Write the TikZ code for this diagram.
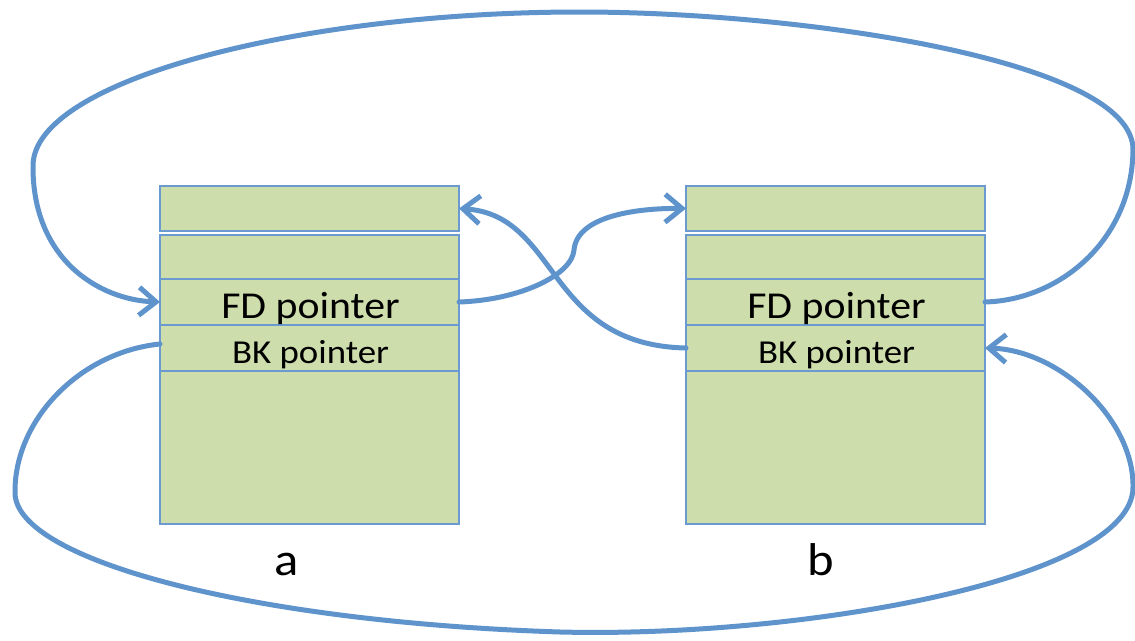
\documentclass[tikz,border=0pt]{standalone}
\usepackage{fontspec}
\setmainfont{Carlito}[FakeStretch=1.1]
\usetikzlibrary{arrows.meta}
\definecolor{wirec}{HTML}{5E93CC}
\definecolor{boxc}{HTML}{6A9AD0}
\definecolor{fillc}{HTML}{CDDDAC}
\begin{document}
\begin{tikzpicture}[x=1pt,y=-1pt,
  cell/.style={rectangle,draw=boxc,fill=fillc,line width=1.5pt,minimum width=299pt,inner sep=0pt,outer sep=0pt},
  wire/.style={draw=wirec,line width=5pt,line cap=round,line join=round},
  tip/.style={-{Straight Barb[length=17pt,width=28pt,line width=5pt]}},
  fdtext/.style={anchor=base,inner sep=0pt,font=\fontsize{38}{44}\selectfont},
  bktext/.style={anchor=base,inner sep=0pt,font=\fontsize{33.5}{40}\selectfont},
  abtext/.style={anchor=base,inner sep=0pt,font=\fontsize{46}{52}\selectfont}]
\useasboundingbox (0,0) rectangle (1135,640);
% left record a
\node[cell,minimum height=45pt]  (aTop) at (309.5,208.5) {};
\node[cell,minimum height=44pt]  (aSec) at (309.5,257) {};
\node[cell,minimum height=46pt]  (aFD)  at (309.5,302) {};
\node[cell,minimum height=46pt]  (aBK)  at (309.5,348) {};
\node[cell,minimum height=153pt] (aBody) at (309.5,447.5) {};
% right record b
\node[cell,minimum height=45pt]  (bTop) at (835.5,208.5) {};
\node[cell,minimum height=44pt]  (bSec) at (835.5,257) {};
\node[cell,minimum height=46pt]  (bFD)  at (835.5,302) {};
\node[cell,minimum height=46pt]  (bBK)  at (835.5,348) {};
\node[cell,minimum height=153pt] (bBody) at (835.5,447.5) {};
% texts
\node[fdtext] (aFDt) at (310.5,318) {FD pointer};
\node[bktext] (aBKt) at (310.5,363) {BK pointer};
\node[fdtext] (bFDt) at (836.5,318) {FD pointer};
\node[bktext] (bBKt) at (836.5,363) {BK pointer};
\node[abtext] (la) at (286.5,575) {a};
\node[abtext] (lb) at (820.5,575) {b};
% big top loop: b.FD -> a.FD
\draw[wire,tip] (bFD.east) .. controls (1060,300) and (1132,240) .. (1133,150)
  .. controls (1134,60) and (800,12) .. (580,12)
  .. controls (300,12) and (35,80) .. (33,165)
  .. controls (32,260) and (100,300) .. (aFD.west);
% big bottom loop: a.BK -> b.BK
\draw[wire,tip] ([yshift=4pt]aBK.west) .. controls (80,352) and (14,420) .. (15,493)
  .. controls (16,560) and (250,622) .. (560,632)
  .. controls (800,638) and (1133,580) .. (1133,487)
  .. controls (1134,420) and (1060,350) .. (bBK.east);
% a.FD -> b.Top
\draw[wire,tip] (aFD.east) .. controls (520,300) and (572,275) .. (574,250)
  .. controls (577,215) and (640,208) .. (bTop.west);
% b.BK -> a.Top
\draw[wire,tip] (bBK.west) .. controls (545,345) and (560,215) .. (aTop.east);
\end{tikzpicture}
\end{document}
